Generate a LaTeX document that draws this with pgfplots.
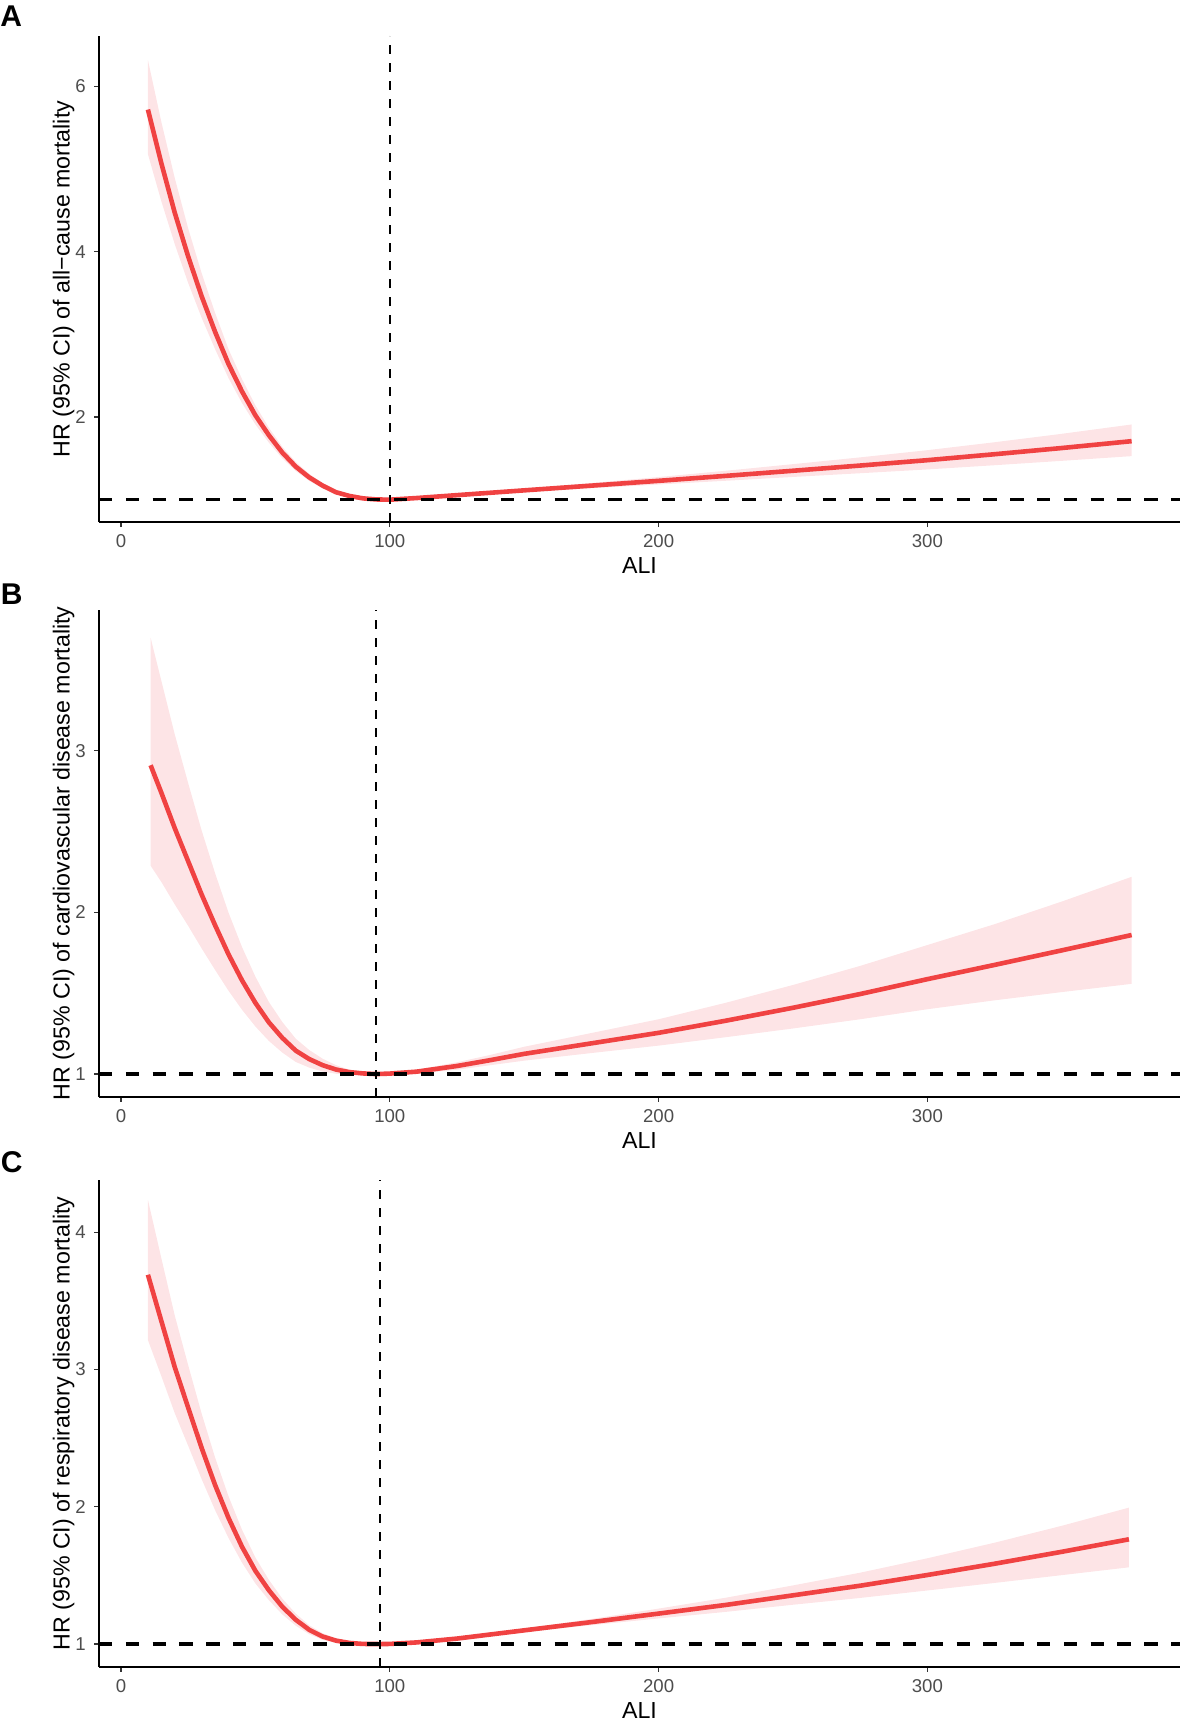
\documentclass[border=0pt]{standalone}
\usepackage{fontspec}
\setmainfont{Liberation Sans}
\usepackage{pgfplots}
\usepackage{pgfplotstable}
\pgfplotsset{compat=1.18}
\usepgfplotslibrary{fillbetween}

\definecolor{curvered}{RGB}{240,66,66}
\definecolor{bandpink}{RGB}{253,228,230}
\definecolor{tickgrey}{RGB}{51,51,51}
\definecolor{labgrey}{RGB}{77,77,77}

\pgfplotstableread{
x f up lo
10 5.72 6.32 5.18
15 5.07 5.57 4.61
20 4.47 4.89 4.09
25 3.94 4.28 3.62
30 3.46 3.74 3.20
35 3.03 3.26 2.82
40 2.64 2.82 2.47
45 2.31 2.46 2.17
50 2.02 2.14 1.91
55 1.78 1.87 1.69
60 1.57 1.64 1.50
65 1.40 1.456 1.347
70 1.27 1.313 1.228
75 1.17 1.203 1.138
80 1.09 1.115 1.066
85 1.045 1.063 1.028
90 1.016 1.027 1.005
95 1.003 1.009 0.997
100 1.0 1.0 1.0
110 1.02 1.023 1.017
125 1.055 1.063 1.047
150 1.113 1.132 1.094
175 1.17 1.202 1.139
200 1.228 1.274 1.184
225 1.288 1.350 1.229
250 1.35 1.430 1.275
275 1.413 1.512 1.320
300 1.478 1.599 1.366
325 1.55 1.695 1.417
350 1.625 1.797 1.470
376 1.708 1.910 1.527
}\dataA

\pgfplotstableread{
x f up lo
11 2.91 3.699 2.289
15 2.74 3.432 2.188
20 2.52 3.100 2.049
25 2.315 2.798 1.916
30 2.11 2.506 1.777
35 1.92 2.242 1.644
40 1.74 1.998 1.515
45 1.58 1.786 1.398
50 1.44 1.602 1.294
55 1.32 1.446 1.205
60 1.224 1.322 1.133
65 1.145 1.219 1.075
70 1.093 1.149 1.040
75 1.055 1.095 1.016
80 1.028 1.055 1.002
85 1.012 1.027 0.997
90 1.004 1.010 0.998
95 1.0 1.0 1.0
100 1.003 1.008 0.998
110 1.015 1.027 1.003
125 1.05 1.073 1.027
137 1.085 1.117 1.054
150 1.125 1.169 1.083
175 1.19 1.254 1.130
200 1.255 1.339 1.176
225 1.33 1.441 1.228
250 1.41 1.551 1.282
275 1.495 1.669 1.339
300 1.587 1.798 1.401
325 1.675 1.927 1.456
350 1.765 2.067 1.507
376 1.86 2.220 1.558
}\dataB

\pgfplotstableread{
x f up lo
10 3.69 4.236 3.214
15 3.353 3.810 2.951
20 3.016 3.392 2.681
25 2.721 3.030 2.443
30 2.428 2.678 2.201
35 2.158 2.358 1.975
40 1.918 2.076 1.772
45 1.709 1.833 1.593
50 1.533 1.630 1.441
55 1.392 1.468 1.320
60 1.272 1.331 1.216
65 1.177 1.222 1.134
70 1.104 1.137 1.072
75 1.055 1.079 1.031
80 1.025 1.042 1.009
85 1.008 1.018 0.998
90 1.001 1.006 0.996
96.5 1.0 1.0 1.0
100 1.001 1.001 1.001
110 1.012 1.0135 1.0105
125 1.04 1.0447 1.0353
150 1.10 1.1124 1.0877
175 1.16 1.1830 1.1375
200 1.222 1.2583 1.1867
225 1.285 1.3376 1.2345
250 1.355 1.4272 1.2864
275 1.425 1.5199 1.3359
300 1.503 1.6249 1.3903
325 1.585 1.7383 1.4452
350 1.672 1.8614 1.5020
375 1.763 1.9938 1.5590
}\dataC

\pgfplotsset{
  rcs/.style={
    scale only axis,
    width=540.5pt,
    xmin=-8.2, xmax=394,
    axis x line*=bottom, axis y line*=left,
    axis line style={-, line width=1pt, black},
    tick align=outside,
    major tick length=2.5pt,
    xtick={0,100,200,300},
    minor tick num=0,
    tick style={tickgrey, line width=0.6pt},
    /pgf/number format/assume math mode=true,
    tick label style={font=\fontsize{9.3}{10}\selectfont, text=labgrey},
    xticklabel style={anchor=north, inner sep=0pt, yshift=-3.6pt},
    yticklabel style={anchor=east, inner sep=0pt, xshift=-4pt},
    xlabel={ALI},
    every axis x label/.style={at={(axis description cs:0.5,0)}, anchor=center, yshift=-22pt, font=\fontsize{11.6}{13}\selectfont},
    every axis y label/.style={at={(axis description cs:-0.0328,0.5)}, rotate=90, anchor=center, font=\fontsize{11.6}{13}\selectfont},
    clip=true,
  },
  band/.style={fill=bandpink, draw=none},
  hr1/.style={black, line width=1.7pt, dash pattern=on 6.7pt off 6.7pt},
  vref/.style={black, line width=1.05pt, dash pattern=on 4.5pt off 4.5pt},
  fit/.style={curvered, line width=2.3pt},
}
\tikzset{panellab/.style={font=\bfseries\fontsize{15}{16}\selectfont, anchor=center, inner sep=0pt}}

\begin{document}
\begin{tikzpicture}

% Panel A
\begin{axis}[rcs, at={(49.5pt,-261pt)}, anchor=south west, height=243pt,
  ymin=0.73, ymax=6.61, ytick={2,4,6},
  ylabel={HR (95\% CI) of all−cause mortality}]
  \addplot[name path=upA, draw=none, forget plot] table[x=x, y=up] {\dataA};
  \addplot[name path=loA, draw=none, forget plot] table[x=x, y=lo] {\dataA};
  \addplot[band] fill between[of=upA and loA];
  \addplot[fit] table[x=x, y=f] {\dataA};
  \addplot[hr1] coordinates {(-8.2,1) (394,1)};
  \addplot[vref] coordinates {(100,0.73) (100,6.61)};
\end{axis}

% Panel B
\begin{axis}[rcs, at={(49.5pt,-548.35pt)}, anchor=south west, height=243.35pt,
  ymin=0.86, ymax=3.87, ytick={1,2,3},
  ylabel={HR (95\% CI) of cardiovascular disease mortality}]
  \addplot[name path=upB, draw=none, forget plot] table[x=x, y=up] {\dataB};
  \addplot[name path=loB, draw=none, forget plot] table[x=x, y=lo] {\dataB};
  \addplot[band] fill between[of=upB and loB];
  \addplot[fit] table[x=x, y=f] {\dataB};
  \addplot[hr1] coordinates {(-8.2,1) (394,1)};
  \addplot[vref] coordinates {(95,0.86) (95,3.87)};
\end{axis}

% Panel C
\begin{axis}[rcs, at={(49.5pt,-833.35pt)}, anchor=south west, height=243.35pt,
  ymin=0.835, ymax=4.38, ytick={1,2,3,4},
  ylabel={HR (95\% CI) of respiratory disease mortality}]
  \addplot[name path=upC, draw=none, forget plot] table[x=x, y=up] {\dataC};
  \addplot[name path=loC, draw=none, forget plot] table[x=x, y=lo] {\dataC};
  \addplot[band] fill between[of=upC and loC];
  \addplot[fit] table[x=x, y=f] {\dataC};
  \addplot[hr1] coordinates {(-8.2,1) (394,1)};
  \addplot[vref] coordinates {(96.5,0.835) (96.5,4.38)};
\end{axis}

\node[panellab] at (5.6pt,-8pt) {A};
\node[panellab] at (5.8pt,-297pt) {B};
\node[panellab] at (5.8pt,-581pt) {C};

\pgfresetboundingbox
\useasboundingbox (0,0) rectangle (590.5pt,-859pt);
\end{tikzpicture}
\end{document}
